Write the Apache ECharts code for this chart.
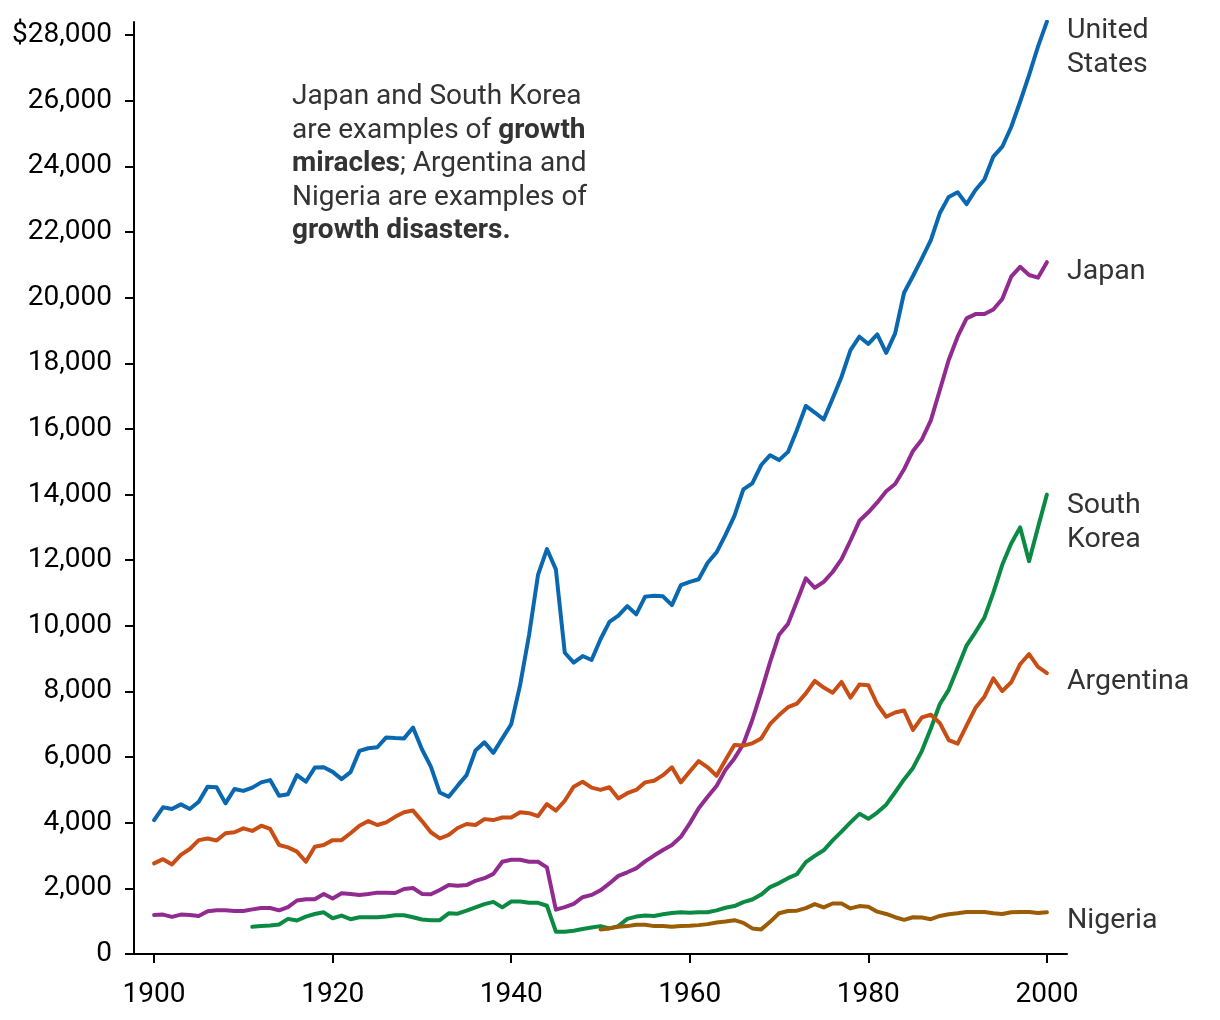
<!DOCTYPE html>
<html>
<head>
<meta charset="utf-8">
<script src="https://cdn.jsdelivr.net/npm/echarts@6/dist/echarts.min.js"></script>
<style>
  html, body { margin: 0; padding: 0; background: #fff; }
  #chart { width: 1220px; height: 1020px; }
</style>
</head>
<body>
<div id="chart"></div>
<script>
// ---------- DATA (GDP per capita, dollars) ----------
const usStart = 1900;
const usValues = [4080,4470,4420,4560,4420,4640,5100,5080,4590,5030,
  4970,5070,5230,5300,4820,4870,5450,5250,5680,5690,
  5550,5330,5540,6190,6270,6300,6600,6580,6570,6900,
  6240,5710,4920,4790,5130,5450,6200,6450,6130,6570,
  7000,8200,9720,11550,12340,11720,9180,8880,9080,8960,
  9590,10120,10310,10600,10350,10890,10920,10900,10630,11240,
  11340,11420,11920,12240,12770,13350,14160,14340,14900,15200,
  15050,15300,15970,16700,16500,16290,16930,17590,18400,18810,
  18590,18880,18320,18910,20150,20660,21200,21750,22570,23070,
  23210,22850,23280,23600,24300,24600,25200,25970,26780,27650,
  28410];

const japanStart = 1900;
const japanValues = [1190,1200,1130,1200,1190,1160,1300,1330,1330,1310,
  1310,1360,1400,1400,1330,1430,1630,1670,1670,1830,
  1690,1850,1830,1800,1830,1870,1870,1860,1980,2010,
  1830,1820,1950,2100,2080,2100,2230,2310,2440,2810,
  2870,2870,2810,2810,2640,1350,1430,1530,1730,1800,
  1940,2150,2380,2490,2610,2820,3000,3170,3320,3570,
  3980,4440,4790,5120,5610,5960,6400,7130,7990,8900,
  9730,10060,10750,11450,11160,11340,11640,12030,12600,13200,
  13460,13760,14100,14320,14770,15330,15680,16260,17180,18100,
  18810,19370,19500,19500,19640,19960,20640,20940,20690,20610,
  21080];

const koreaStart = 1911;
const koreaValues = [830,850,870,900,1070,1020,1140,1220,1270,
  1090,1170,1060,1120,1120,1120,1140,1180,1180,1120,
  1050,1030,1030,1240,1230,1320,1420,1520,1590,1420,
  1600,1600,1560,1560,1470,680,680,710,760,810,
  850,780,850,1070,1140,1170,1160,1210,1250,1270,
  1260,1270,1270,1330,1410,1460,1580,1660,1810,2040,
  2160,2310,2430,2800,2990,3160,3460,3730,4010,4270,
  4120,4310,4550,4930,5320,5670,6190,6870,7610,8050,
  8720,9400,9810,10250,11010,11860,12510,13000,11970,13000,
  14000];

const argentinaStart = 1900;
const argentinaValues = [2760,2890,2730,3020,3200,3470,3520,3460,3680,3710,
  3830,3750,3910,3810,3320,3250,3120,2810,3270,3320,
  3470,3470,3680,3910,4050,3930,4010,4180,4320,4370,
  4050,3710,3520,3630,3840,3960,3930,4110,4080,4160,
  4160,4320,4290,4200,4570,4370,4670,5100,5250,5070,
  5000,5080,4740,4900,5000,5230,5280,5450,5690,5230,
  5560,5880,5690,5430,5910,6370,6350,6420,6570,7010,
  7280,7520,7630,7940,8320,8120,7960,8290,7810,8210,
  8190,7610,7230,7360,7420,6830,7210,7290,7040,6520,
  6410,6960,7500,7840,8400,8010,8280,8830,9140,8750,
  8560];

const nigeriaStart = 1950;
const nigeriaValues = [750,780,830,850,890,890,850,850,830,850,
  860,880,910,960,990,1030,950,780,750,980,
  1240,1310,1320,1400,1520,1420,1540,1540,1390,1460,
  1440,1290,1220,1120,1040,1120,1110,1060,1160,1210,
  1240,1280,1280,1280,1240,1220,1270,1280,1280,1250,
  1270];

const xTicks = [1900, 1920, 1940, 1960, 1980, 2000];
const yTicks = [0,2000,4000,6000,8000,10000,12000,14000,16000,18000,20000,22000,24000,26000,28000];

const seriesNames = ['United\nStates', 'Japan', 'South\nKorea', 'Argentina', 'Nigeria'];
const seriesColors = ['#0a68b0', '#912b8f', '#0b8a43', '#c94e16', '#9c5b05'];
// ---------------------------------------------------

function pairs(start, vals) {
  return vals.map((v, i) => [start + i, v]);
}

const dataSets = [
  pairs(usStart, usValues),
  pairs(japanStart, japanValues),
  pairs(koreaStart, koreaValues),
  pairs(argentinaStart, argentinaValues),
  pairs(nigeriaStart, nigeriaValues)
];
const labelOffsets = [[0, 26], [0, 10], [0, 28], [0, 9], [0, 9]];

const FONT = 'Roboto, "Noto Sans", sans-serif';

const chart = echarts.init(document.getElementById('chart'), null, { renderer: 'canvas' });

const option = {
  animation: false,
  backgroundColor: '#ffffff',
  textStyle: { fontFamily: FONT },
  grid: { left: 134, right: 153, top: 22, bottom: 66, containLabel: false },
  xAxis: {
    type: 'value',
    min: 1897.75,
    max: 2002.25,
    axisLine: { show: true, lineStyle: { color: '#000', width: 2 } },
    axisTick: { show: true, customValues: xTicks, length: 9, lineStyle: { color: '#000', width: 2 } },
    axisLabel: {
      customValues: xTicks, fontSize: 28, color: '#000', margin: 27, fontFamily: FONT,
      formatter: function (v) { return String(v); }
    },
    splitLine: { show: false }
  },
  yAxis: {
    type: 'value',
    min: 0,
    max: 28400,
    axisLine: { show: true, lineStyle: { color: '#000', width: 2 } },
    axisTick: { show: true, customValues: yTicks, length: 9, lineStyle: { color: '#000', width: 2 } },
    axisLabel: {
      customValues: yTicks,
      fontSize: 28,
      color: '#000',
      margin: 22,
      fontFamily: FONT,
      formatter: function (v) {
        const s = Number(v).toLocaleString('en-US');
        return v === 28000 ? '$' + s : s;
      }
    },
    splitLine: { show: false }
  },
  series: dataSets.map((d, i) => ({
    name: seriesNames[i],
    type: 'line',
    data: d,
    showSymbol: false,
    symbol: 'none',
    lineStyle: { color: seriesColors[i], width: 4, join: 'round', cap: 'round' },
    itemStyle: { color: seriesColors[i] },
    emphasis: { disabled: true },
    endLabel: {
      show: true,
      formatter: seriesNames[i],
      distance: 20,
      offset: labelOffsets[i],
      color: '#333',
      fontSize: 28.5,
      lineHeight: 34,
      fontFamily: FONT,
      align: 'left'
    }
  })),
  graphic: [{
    type: 'text',
    left: 292,
    top: 80.5,
    style: {
      text: 'Japan and South Korea\nare examples of {b|growth}\n{b|miracles}; Argentina and\nNigeria are examples of\n{b|growth disasters.}',
      fill: '#333',
      fontSize: 28,
      lineHeight: 33.5,
      fontFamily: FONT,
      rich: {
        b: { fontWeight: 'bold', fontSize: 28, lineHeight: 33.5, fill: '#333', fontFamily: FONT }
      }
    }
  }]
};

chart.setOption(option);
</script>
</body>
</html>
